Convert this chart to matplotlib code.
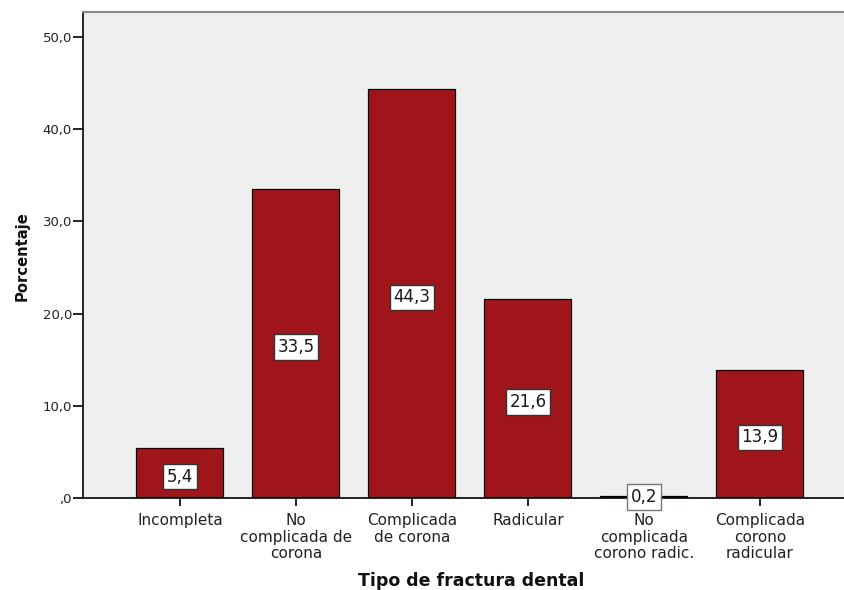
import matplotlib
matplotlib.use("Agg")
import matplotlib.pyplot as plt

categories = ["Incompleta", "No\ncomplicada de\ncorona", "Complicada\nde corona",
              "Radicular", "No\ncomplicada\ncorono radic.", "Complicada\ncorono\nradicular"]
values = [5.4, 33.5, 44.3, 21.6, 0.2, 13.9]
value_labels = ["5,4", "33,5", "44,3", "21,6", "0,2", "13,9"]
yticks = [0, 10, 20, 30, 40, 50]
ytick_labels = [",0", "10,0", "20,0", "30,0", "40,0", "50,0"]

plt.rcParams['font.family'] = ['DejaVu Sans']

fig = plt.figure(figsize=(8.45, 5.9), dpi=100)
W, H = 845, 590
ax = fig.add_axes([83 / W, 1 - 498 / H, (845 - 83) / W, (498 - 12) / H])
ax.set_facecolor("#EFEFEF")

x = list(range(len(categories)))
ax.bar(x, values, width=0.75, color="#A0151A", edgecolor="black", linewidth=0.9, zorder=2)

for xi, v, lab in zip(x, values, value_labels):
    ax.annotate(lab, xy=(xi, v / 2), xytext=(0, -2.5 if v > 1 else 0), textcoords="offset points",
                ha="center", va="center", fontsize=12, zorder=3, color="#1a1a1a",
                bbox=dict(boxstyle="square,pad=0.22", facecolor="white",
                          edgecolor="#333333" if v > 1 else "#777777", linewidth=1))

ax.set_xlim(-0.836, 5.733)
ax.set_ylim(0, 52.7)
ax.set_yticks(yticks)
ax.set_yticklabels(ytick_labels, fontsize=9.5, color="#222222")
ax.set_xticks(x)
ax.set_xticklabels(categories, fontsize=11, color="#222222", linespacing=1.13)
ax.tick_params(axis="y", length=7, width=1.2, pad=1)
ax.tick_params(axis="x", length=6, width=1.2, pad=5)

ax.spines["right"].set_visible(False)
ax.spines["top"].set_color("#888888")
ax.spines["top"].set_linewidth(1.5)
ax.spines["left"].set_linewidth(1.2)
ax.spines["bottom"].set_linewidth(1.2)

fig.text(22 / W, 1 - 256 / H, "Porcentaje", ha="center", va="center", rotation=90,
         fontsize=10.6, fontweight="bold", color="#111111")
fig.text(471 / W, 1 - 581 / H, "Tipo de fractura dental", ha="center", va="center",
         fontsize=12.5, fontweight="bold", color="#111111")

fig.savefig("out.png", dpi=100)
